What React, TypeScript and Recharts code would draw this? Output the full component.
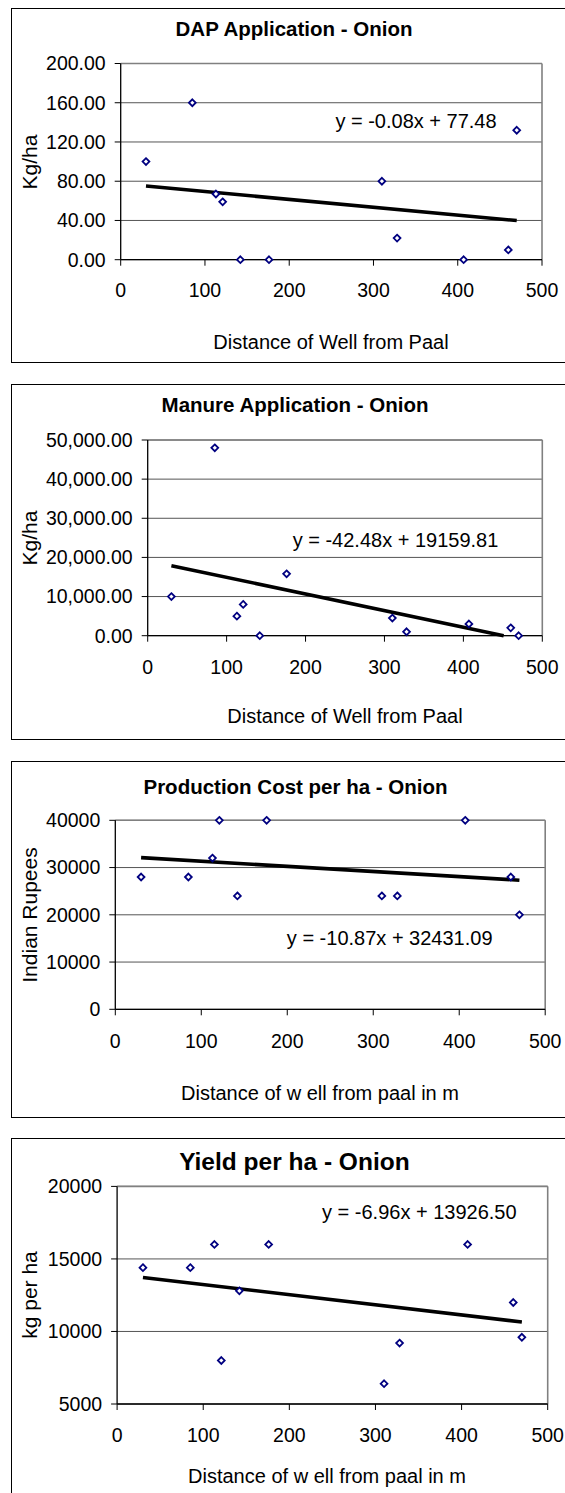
import React from 'react';
import {
  ScatterChart,
  Scatter,
  XAxis,
  YAxis,
  CartesianGrid,
  ReferenceLine,
} from 'recharts';

// distance of each well from the paal (m), shared by all four panels
const distance = [30, 85, 113, 121, 142, 176, 310, 328, 407, 460, 470];

const dapKgHa = [100, 160, 67, 59, 0, 0, 80, 22, 0, 10, 132];
const manureKgHa = [10000, 48000, 5000, 8000, 0, 15800, 4500, 1000, 3000, 2000, 0];
const costRupees = [28000, 28000, 32000, 40000, 24000, 40000, 24000, 24000, 40000, 28000, 20000];
const yieldKgHa = [14400, 14400, 16000, 8000, 12800, 16000, 6400, 9200, 16000, 12000, 9600];

const xTicks = [0, 100, 200, 300, 400, 500];
const dapTicks = [0, 40, 80, 120, 160, 200];
const manureTicks = [0, 10000, 20000, 30000, 40000, 50000];
const costTicks = [0, 10000, 20000, 30000, 40000];
const yieldTicks = [5000, 10000, 15000, 20000];

// trendline coefficients as printed on the charts
const dapTrend = { slope: -0.08, intercept: 77.48 };
const manureTrend = { slope: -42.48, intercept: 19159.81 };
const costTrend = { slope: -10.87, intercept: 32431.09 };
const yieldTrend = { slope: -6.96, intercept: 13926.5 };

const FONT = '"Liberation Sans", Arial, Helvetica, sans-serif';
const PAGE_W = 565;

function Diamond(props: any) {
  const { cx, cy } = props;
  if (cx == null || cy == null) return null;
  const r = 3.4;
  return (
    <path
      d={`M${cx},${cy - r}L${cx + r},${cy}L${cx},${cy + r}L${cx - r},${cy}Z`}
      fill="#fff"
      stroke="#000080"
      strokeWidth={1.8}
    />
  );
}

function eqText(t: { slope: number; intercept: number }) {
  return `y = ${t.slope.toFixed(2)}x + ${t.intercept.toFixed(2)}`;
}

interface PanelProps {
  boxTop: number;
  boxH: number;
  plot: { l: number; r: number; t: number; b: number };
  title: string;
  titleSize: number;
  titleAt: [number, number];
  yLabel: string;
  yLabelAt: [number, number];
  xLabel: string;
  xLabelAt: [number, number];
  eqAt: [number, number];
  values: number[];
  yTicks: number[];
  fmt: (v: number) => string;
  trend: { slope: number; intercept: number };
  xTickGap: number;
}

function TextAt({ x, y, size, bold, children }: any) {
  return (
    <div
      style={{
        position: 'absolute',
        left: x,
        top: y - size * 0.49,
        transform: 'translateX(-50%)',
        fontSize: size,
        lineHeight: `${size}px`,
        fontWeight: bold ? 'bold' : 'normal',
        whiteSpace: 'nowrap',
        color: '#000',
      }}
    >
      {children}
    </div>
  );
}

function Panel(p: PanelProps) {
  const data = distance.map((x, i) => ({ x, y: p.values[i] }));
  const yMin = p.yTicks[0];
  const yMax = p.yTicks[p.yTicks.length - 1];
  const x0 = Math.min(...distance);
  let x1 = Math.max(...distance);
  // Excel stops the trendline where it leaves the axis range
  if (p.trend.slope * x1 + p.trend.intercept < yMin) {
    x1 = (yMin - p.trend.intercept) / p.trend.slope;
  }
  const seg = [
    { x: x0, y: p.trend.slope * x0 + p.trend.intercept },
    { x: x1, y: p.trend.slope * x1 + p.trend.intercept },
  ];

  return (
    <>
      <div
        style={{
          position: 'absolute',
          left: 11,
          top: p.boxTop,
          width: 600,
          height: p.boxH,
          border: '1.5px solid #000',
          boxSizing: 'border-box',
        }}
      />
      <div style={{ position: 'absolute', left: 0, top: p.boxTop }}>
        <ScatterChart
          width={PAGE_W}
          height={p.boxH}
          margin={{ top: p.plot.t - p.boxTop, right: PAGE_W - p.plot.r, bottom: 0, left: 0 }}
        >
          <CartesianGrid horizontal vertical={false} stroke="#555" strokeWidth={1} />
          <XAxis
            type="number"
            dataKey="x"
            domain={[0, 500]}
            ticks={xTicks}
            interval={0}
            height={p.boxTop + p.boxH - p.plot.b}
            tickSize={6}
            tickMargin={p.xTickGap}
            axisLine={{ stroke: '#000', strokeWidth: 1.3 }}
            tickLine={{ stroke: '#000' }}
            tick={{ fill: '#000', fontSize: 19.5, fontFamily: FONT }}
          />
          <YAxis
            type="number"
            dataKey="y"
            domain={[yMin, yMax]}
            ticks={p.yTicks}
            interval={0}
            width={p.plot.l}
            tickSize={6}
            tickMargin={9}
            tickFormatter={p.fmt}
            axisLine={{ stroke: '#000', strokeWidth: 1.3 }}
            tickLine={{ stroke: '#000' }}
            tick={{ fill: '#000', fontSize: 19.5, fontFamily: FONT }}
          />
          <ReferenceLine y={yMax} stroke="#808080" strokeWidth={1.6} />
          <ReferenceLine x={500} stroke="#808080" strokeWidth={1.6} />
          <Scatter data={data} shape={Diamond} isAnimationActive={false} />
          <ReferenceLine segment={seg} stroke="#000" strokeWidth={3.6} ifOverflow="visible" />
        </ScatterChart>
      </div>
      <TextAt x={p.titleAt[0]} y={p.titleAt[1]} size={p.titleSize} bold>
        {p.title}
      </TextAt>
      <TextAt x={p.xLabelAt[0]} y={p.xLabelAt[1]} size={20}>
        {p.xLabel}
      </TextAt>
      <TextAt x={p.eqAt[0]} y={p.eqAt[1]} size={20}>
        {eqText(p.trend)}
      </TextAt>
      <div
        style={{
          position: 'absolute',
          left: p.yLabelAt[0],
          top: p.yLabelAt[1],
          transform: 'translate(-50%, -50%) rotate(-90deg)',
          fontSize: 21,
          lineHeight: '21px',
          whiteSpace: 'nowrap',
          color: '#000',
        }}
      >
        {p.yLabel}
      </div>
    </>
  );
}

const fixed2 = (v: number) => v.toFixed(2);
const comma2 = (v: number) =>
  v.toLocaleString('en-US', { minimumFractionDigits: 2, maximumFractionDigits: 2 });
const plain = (v: number) => String(v);

export default function App() {
  return (
    <div
      style={{
        position: 'absolute',
        left: 0,
        top: 0,
        width: PAGE_W,
        height: 1493,
        overflow: 'hidden',
        background: '#fff',
        fontFamily: FONT,
      }}
    >
      <Panel
        boxTop={8}
        boxH={355}
        plot={{ l: 120.7, r: 542, t: 63.5, b: 259.7 }}
        title="DAP Application - Onion"
        titleSize={20.5}
        titleAt={[294, 28.7]}
        yLabel="Kg/ha"
        yLabelAt={[29, 162]}
        xLabel="Distance of Well from Paal"
        xLabelAt={[331, 342]}
        eqAt={[416, 120.8]}
        values={dapKgHa}
        yTicks={dapTicks}
        fmt={fixed2}
        trend={dapTrend}
        xTickGap={17}
      />
      <Panel
        boxTop={384}
        boxH={356}
        plot={{ l: 147.7, r: 542.3, t: 440, b: 635.7 }}
        title="Manure Application - Onion"
        titleSize={20.5}
        titleAt={[295, 405.5]}
        yLabel="Kg/ha"
        yLabelAt={[29, 538]}
        xLabel="Distance of Well from Paal"
        xLabelAt={[345, 715.8]}
        eqAt={[395.5, 540]}
        values={manureKgHa}
        yTicks={manureTicks}
        fmt={comma2}
        trend={manureTrend}
        xTickGap={18}
      />
      <Panel
        boxTop={760.7}
        boxH={357}
        plot={{ l: 115.3, r: 545.2, t: 820, b: 1009 }}
        title="Production Cost per ha - Onion"
        titleSize={20.5}
        titleAt={[295.5, 787.5]}
        yLabel="Indian Rupees"
        yLabelAt={[29, 915]}
        xLabel="Distance of w ell from paal in m"
        xLabelAt={[320, 1093]}
        eqAt={[389.7, 938]}
        values={costRupees}
        yTicks={costTicks}
        fmt={plain}
        trend={costTrend}
        xTickGap={19}
      />
      <Panel
        boxTop={1138.3}
        boxH={370}
        plot={{ l: 117.1, r: 547.7, t: 1186.7, b: 1404.3 }}
        title="Yield per ha - Onion"
        titleSize={24.5}
        titleAt={[294.4, 1162.5]}
        yLabel="kg per ha"
        yLabelAt={[29, 1295]}
        xLabel="Distance of w ell from paal in m"
        xLabelAt={[327, 1475.5]}
        eqAt={[419.3, 1211.7]}
        values={yieldKgHa}
        yTicks={yieldTicks}
        fmt={plain}
        trend={yieldTrend}
        xTickGap={17.7}
      />
    </div>
  );
}
